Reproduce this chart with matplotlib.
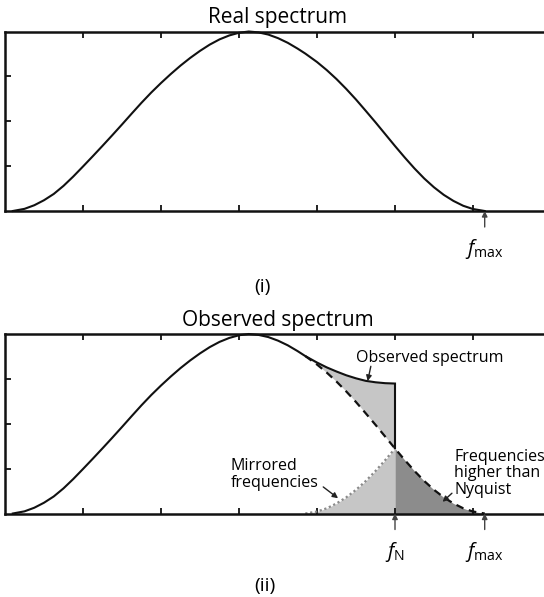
import matplotlib
matplotlib.use("Agg")
import matplotlib.pyplot as plt
import numpy as np

# ---------------- data ----------------
freq = [0.10, 0.25, 0.375, 0.50, 0.625, 0.75, 0.875, 1.00, 1.125, 1.25,
        1.375, 1.50, 1.625, 1.75, 1.875, 2.00, 2.125, 2.25, 2.375, 2.50,
        2.625, 2.75, 2.875, 3.00, 3.125, 3.25, 3.375, 3.50, 3.625, 3.75,
        3.85, 4.00, 4.125, 4.25, 4.375, 4.50, 4.625, 4.75, 4.875, 5.00,
        5.125, 5.25, 5.375, 5.50, 5.625, 5.75, 5.875, 6.00, 6.15]
real = [0.000, 0.012, 0.032, 0.060, 0.095, 0.140, 0.192, 0.248, 0.305, 0.363,
        0.422, 0.482, 0.543, 0.603, 0.660, 0.713, 0.763, 0.810, 0.853, 0.892,
        0.927, 0.956, 0.978, 0.993, 1.000, 0.995, 0.983, 0.963, 0.937, 0.905,
        0.877, 0.830, 0.785, 0.735, 0.680, 0.621, 0.558, 0.494, 0.428, 0.362,
        0.298, 0.237, 0.181, 0.132, 0.090, 0.056, 0.029, 0.011, 0.000]
f_nyquist = 5.0
f_max = 6.15
x_ticks = [1, 2, 3, 4, 5, 6, 7]
y_ticks = [0.25, 0.50, 0.75]
titles = ["Real spectrum", "Observed spectrum"]
panel_labels = ["(i)", "(ii)"]
ann_observed = "Observed spectrum"
ann_mirrored = "Mirrored\nfrequencies"
ann_higher = "Frequencies\nhigher than\nNyquist"

# ---------------- style ----------------
plt.rcParams["font.family"] = ["Open Sans", "DejaVu Sans"]
plt.rcParams["mathtext.fontset"] = "custom"
plt.rcParams["mathtext.rm"] = "Open Sans"
plt.rcParams["mathtext.it"] = "Open Sans:italic"

LIGHT = "#c6c6c6"
DARK = "#8c8c8c"
INK = "#111111"

W, H = 544, 597
fig = plt.figure(figsize=(W / 100, H / 100), dpi=100)
fig.patch.set_facecolor("white")


def ax_rect(left, top, right, bottom):
    return [left / W, 1 - bottom / H, (right - left) / W, (bottom - top) / H]


ax1 = fig.add_axes(ax_rect(5, 31.5, 551, 211))
ax2 = fig.add_axes(ax_rect(5, 334, 551, 513.5))

freq_a = np.array(freq)
real_a = np.array(real)


def style(ax, title):
    ax.set_xlim(0, 7)
    ax.set_ylim(0, 1)
    ax.set_xticks(x_ticks)
    ax.set_yticks(y_ticks)
    ax.set_xticklabels([])
    ax.set_yticklabels([])
    ax.tick_params(axis="both", direction="in", length=4, width=1.3,
                   color=INK, top=True, bottom=True, left=True, right=False)
    for s in ["top", "bottom", "left", "right"]:
        ax.spines[s].set_linewidth(1.8)
        ax.spines[s].set_color(INK)
    ax.set_title(title, fontsize=15, pad=6)


def axis_arrow(ax, x, label):
    ax.annotate("", xy=(x, 0), xycoords="data", xytext=(0, -16),
                textcoords="offset pixels",
                arrowprops=dict(arrowstyle="-|>", color="#444444", lw=1.0,
                                mutation_scale=8, shrinkA=0, shrinkB=0),
                annotation_clip=False)
    ax.annotate(label, xy=(x, 0), xycoords="data", xytext=(0, -38),
                textcoords="offset pixels", ha="center", va="center",
                fontsize=14.5, annotation_clip=False)


# ---------------- panel (i) ----------------
style(ax1, titles[0])
ax1.plot(freq_a, real_a, color=INK, lw=1.5, clip_on=False, zorder=3,
         solid_joinstyle="round")
axis_arrow(ax1, f_max, r"$f_{\mathrm{max}}$")

# ---------------- panel (ii) ----------------
style(ax2, titles[1])

hi = freq_a >= f_nyquist - 1e-9
mir_x = 2 * f_nyquist - freq_a[hi]
mir_y = real_a[hi]
order = np.argsort(mir_x)
mir_x, mir_y = mir_x[order], mir_y[order]

lo = freq_a <= f_nyquist + 1e-9
obs_x = freq_a[lo]
obs_y = real_a[lo].copy()
for mx, my in zip(mir_x, mir_y):
    obs_y[np.isclose(obs_x, mx)] += my

in_mir = np.array([np.any(np.isclose(mir_x, v)) for v in obs_x])
real_at_mir = real_a[lo][in_mir]
obs_at_mir = obs_y[in_mir]

ax2.fill_between(mir_x, real_at_mir, obs_at_mir, color=LIGHT, lw=0, zorder=1)
ax2.fill_between(mir_x, 0, mir_y, color=LIGHT, lw=0, zorder=1)
ax2.fill_between(freq_a[hi], 0, real_a[hi], color=DARK, lw=0, zorder=1)

ax2.plot(obs_x, obs_y, color=INK, lw=1.5, clip_on=False, zorder=3,
         solid_joinstyle="round")
idx_n = np.argmin(np.abs(freq_a - f_nyquist))
ax2.vlines(f_nyquist, real_a[idx_n], obs_y[np.argmin(np.abs(obs_x - f_nyquist))],
           color=INK, lw=1.5, zorder=3)
dash_mask = freq_a >= mir_x.min() - 1e-9
ax2.plot(freq_a[dash_mask], real_a[dash_mask], color=INK, lw=1.6,
         ls=(0, (3.5, 2.5)), zorder=3)
ax2.plot(mir_x, mir_y, color="#8a8a8a", lw=1.6, ls=(0, (1, 1.2)), zorder=2)

axis_arrow(ax2, f_nyquist, r"$f_{\mathrm{N}}$")
axis_arrow(ax2, f_max, r"$f_{\mathrm{max}}$")

arrow_kw = dict(arrowstyle="-|>", color="#222222", lw=1.0, mutation_scale=8,
                shrinkA=0, shrinkB=0)
ax2.text(4.50, 0.867, ann_observed, fontsize=11.5, ha="left", va="center")
ax2.annotate("", xy=(4.65, 0.738), xytext=(4.69, 0.82), arrowprops=arrow_kw)

ax2.text(2.89, 0.216, ann_mirrored, fontsize=11.5, ha="left", va="center",
         linespacing=1.1)
ax2.annotate("", xy=(4.27, 0.085), xytext=(4.08, 0.148), arrowprops=arrow_kw)

ax2.text(5.76, 0.223, ann_higher, fontsize=11.5, ha="left", va="center",
         linespacing=1.05, clip_on=False)
ax2.annotate("", xy=(5.61, 0.065), xytext=(5.73, 0.113), arrowprops=arrow_kw)

# panel labels
fig.text(262 / W, 1 - 287 / H, panel_labels[0], fontsize=14, ha="center", va="center")
fig.text(265 / W, 1 - 586 / H, panel_labels[1], fontsize=14, ha="center", va="center")

fig.savefig("out.png", dpi=100)
